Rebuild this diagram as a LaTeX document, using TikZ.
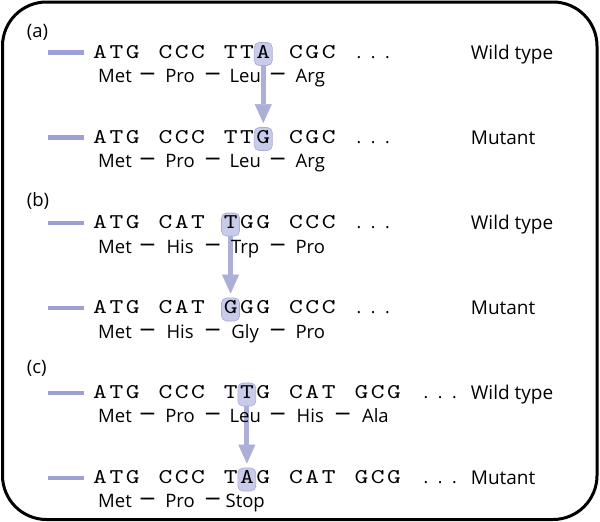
\documentclass[tikz,border=0pt]{standalone}
\usepackage{fontspec}
\usepackage{graphicx}
\setsansfont{Open Sans}
\newfontfamily\dnafont{lmmono10-regular.otf}[FakeStretch=1.25,LetterSpace=12.1]
\usetikzlibrary{arrows.meta}
\pgfdeclarelayer{background}
\pgfsetlayers{background,main}
\definecolor{barblue}{RGB}{156,160,212}
\definecolor{hlfill}{RGB}{200,203,233}
\definecolor{hldraw}{RGB}{170,174,215}
\definecolor{arrblue}{RGB}{172,176,215}
\newcommand\aadash{\raisebox{2pt}{\scalebox{0.8}[1.3]{—}}}
\newcommand\dnarow[3]{\foreach \cod [count=\i from 0] in {#3}{\node[dna] (#1-\i) at (93+65.33*\i,#2) {\cod};}}
\newcommand\protrow[3]{\foreach \aa [count=\i from 0] in {#3}{\node[prot] (#1-\i) at (115+65.1*\i,#2) {\aa};\ifnum\i>0 \node[prot] (#1-d\i) at (115+65.1*\i-32.55,#2) {\aadash};\fi}}
\begin{document}
\begin{tikzpicture}[x=1pt,y=-1pt,
 dna/.style={anchor=base west,inner sep=0pt,font=\dnafont\fontsize{21}{24}\selectfont},
 prot/.style={anchor=base,inner sep=0pt,font=\sffamily\fontsize{18.5}{21}\selectfont},
 tag/.style={anchor=base west,inner sep=0pt,font=\sffamily\fontsize{19}{22}\selectfont},
 part/.style={anchor=west,inner sep=0pt,font=\sffamily\fontsize{18.5}{22}\selectfont},
 dots/.style={anchor=base west,inner sep=0pt,font=\sffamily\fontsize{17.5}{20}\selectfont},
 hl/.style={draw=hldraw,fill=hlfill,rounded corners=5pt,minimum width=18pt,minimum height=23pt,inner sep=0pt,line width=0.7pt},
 mut/.style={draw=arrblue,fill=arrblue,line width=5pt,-{Triangle[width=17pt,length=19pt,line width=0.5pt]},shorten >=4pt},
 bar/.style={draw=barblue,line width=4.5pt},
 frame/.style={draw=black,line width=3pt,rounded corners=44pt}]
\useasboundingbox (0,0) rectangle (600,522);
\draw[frame] (2.5,2) rectangle (597,519.5);
% part labels
\node[part] (pa) at (26.7,32.5) {(a)};
\node[part] (pb) at (26.7,200.8) {(b)};
\node[part] (pc) at (26.7,368.3) {(c)};
% (a)
\dnarow{a1}{58}{ATG,CCC,TTA,CGC}
\protrow{p1}{82.5}{Met,Pro,Leu,Arg}
\node[dots] (d1) at (356.5,58) {.\kern9.5pt.\kern9.5pt.};
\node[tag] (w1) at (470.7,59) {Wild type};
\dnarow{a2}{143}{ATG,CCC,TTG,CGC}
\protrow{p2}{167.5}{Met,Pro,Leu,Arg}
\node[dots] (d2) at (356.5,143) {.\kern9.5pt.\kern9.5pt.};
\node[tag] (m1) at (470.7,144) {Mutant};
% (b)
\dnarow{b1}{228.5}{ATG,CAT,TGG,CCC}
\protrow{p3}{253}{Met,His,Trp,Pro}
\node[dots] (d3) at (356.5,228.5) {.\kern9.5pt.\kern9.5pt.};
\node[tag] (w2) at (470.7,229.5) {Wild type};
\dnarow{b2}{313.5}{ATG,CAT,GGG,CCC}
\protrow{p4}{338}{Met,His,Gly,Pro}
\node[dots] (d4) at (356.5,313.5) {.\kern9.5pt.\kern9.5pt.};
\node[tag] (m2) at (470.7,314.5) {Mutant};
% (c)
\dnarow{c1}{398.5}{ATG,CCC,TTG,CAT,GCG}
\protrow{p5}{422.5}{Met,Pro,Leu,His,Ala}
\node[dots] (d5) at (423.5,398.5) {.\kern9.5pt.\kern9.5pt.};
\node[tag] (w3) at (470.7,399.5) {Wild type};
\dnarow{c2}{483.5}{ATG,CCC,TAG,CAT,GCG}
\protrow{p6}{507.5}{Met,Pro,Stop}
\node[dots] (d6) at (423.5,483.5) {.\kern9.5pt.\kern9.5pt.};
\node[tag] (m3) at (470.7,484.5) {Mutant};
% 5' bars
\foreach \r in {a1,a2,b1,b2,c1,c2}{
  \draw[bar] ([xshift=-44.7pt,yshift=5.7pt]\r-0.base west) -- ([xshift=-8.7pt,yshift=5.7pt]\r-0.base west);}
% highlights and arrows
\begin{pgfonlayer}{background}
\node[hl] (ha1) at ([xshift=39.6pt,yshift=4pt]a1-2.base west) {};
\node[hl] (ha2) at ([xshift=39.6pt,yshift=4pt]a2-2.base west) {};
\node[hl] (hb1) at ([xshift=6.9pt,yshift=4pt]b1-2.base west) {};
\node[hl] (hb2) at ([xshift=6.9pt,yshift=4pt]b2-2.base west) {};
\node[hl] (hc1) at ([xshift=23.2pt,yshift=4pt]c1-2.base west) {};
\node[hl] (hc2) at ([xshift=23.2pt,yshift=4pt]c2-2.base west) {};
\draw[mut] (ha1.south) -- (ha2.north);
\draw[mut] (hb1.south) -- (hb2.north);
\draw[mut] (hc1.south) -- (hc2.north);
\end{pgfonlayer}
\end{tikzpicture}
\end{document}
